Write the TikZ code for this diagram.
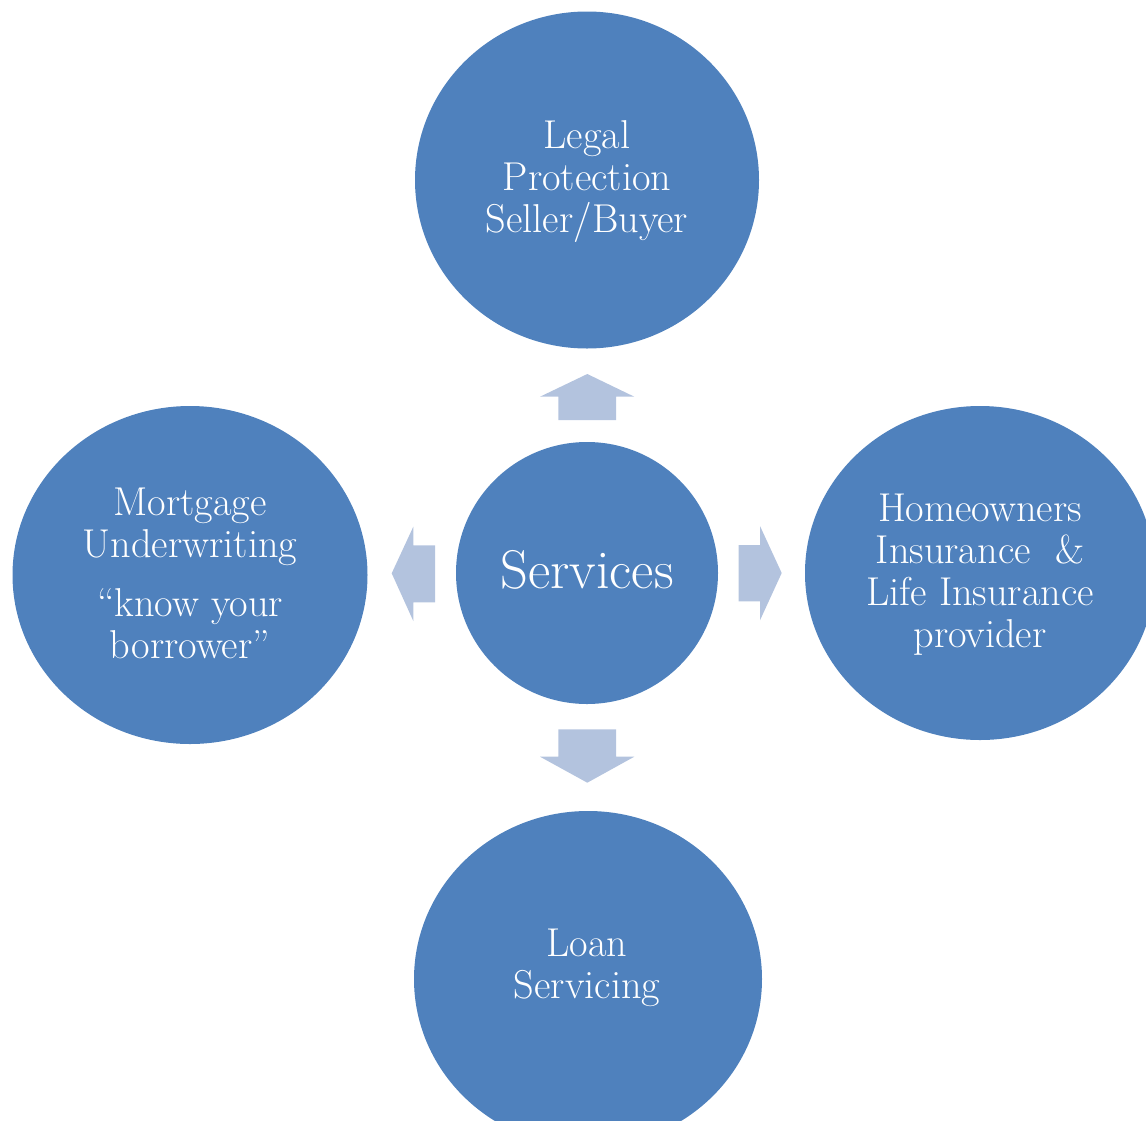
\documentclass[tikz,border=0pt]{standalone}
\usetikzlibrary{shapes.geometric}
\definecolor{circblue}{RGB}{79,129,189}
\definecolor{arrowblue}{RGB}{179,195,222}
\tikzset{
  bubble/.style={ellipse, fill=circblue, draw=none, inner sep=0pt},
  btext/.style={text=white, align=center, inner sep=0pt, font=\fontsize{40.3}{42}\selectfont},
  bigtext/.style={text=white, align=center, inner sep=0pt, font=\fontsize{54.5}{60}\selectfont},
  flowarrow/.style={fill=arrowblue, draw=none}
}
\begin{document}
\begin{tikzpicture}[x=1pt,y=-1pt]
\useasboundingbox (0,0) rectangle (1146,1120);
\clip (0,0) rectangle (1146,1120);
% circles
\node[bubble, minimum width=344, minimum height=337] (top) at (587,180) {};
\node[bubble, minimum width=355, minimum height=338] (left) at (190,575) {};
\node[bubble, minimum width=350, minimum height=334] (right) at (980,573) {};
\node[bubble, minimum width=348, minimum height=336] (bottom) at (588,979) {};
\node[bubble, minimum width=262, minimum height=262] (center) at (587,573) {};
% texts
\node[btext] (toptext) at (587,181.5) {Legal\\Protection\\Seller/Buyer};
\node[btext] (lefttext) at (190,572.9) {Mortgage\\Underwriting\\[17pt]``know your\\borrower''};
\node[btext] (righttext) at (980,575.1) {Homeowners\\Insurance~~\&\\Life Insurance\\provider};
\node[btext] (bottomtext) at (587,967.6) {Loan\\Servicing};
\node[bigtext] (centertext) at (587,570) {Services};
% arrows
\fill[flowarrow] (558.3,420) -- (558.3,396.7) -- (540,396.7) -- (587.3,374) -- (634.3,396.7) -- (616,396.7) -- (616,420) -- cycle;
\fill[flowarrow] (558.3,729.3) -- (558.3,756.7) -- (540,756.7) -- (587.3,782.7) -- (634.3,756.7) -- (616,756.7) -- (616,729.3) -- cycle;
\fill[flowarrow] (435,545.3) -- (413.3,545.3) -- (413.3,526.7) -- (391.7,573.3) -- (413.3,621) -- (413.3,602.3) -- (435,602.3) -- cycle;
\fill[flowarrow] (738.7,545) -- (760,545) -- (760,526) -- (781.7,573) -- (760,620.3) -- (760,601.3) -- (738.7,601.3) -- cycle;
\end{tikzpicture}
\end{document}
